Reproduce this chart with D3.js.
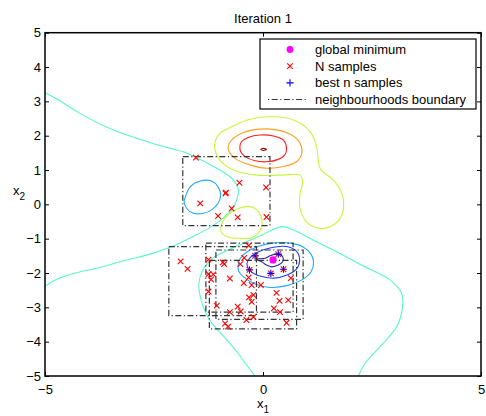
<!DOCTYPE html>
<html>
<head>
<meta charset="utf-8">
<script src="https://d3js.org/d3.v7.min.js"></script>
<style>
  body { margin: 0; background: #fff; }
  svg text { font-family: "Liberation Sans", Arial, sans-serif; font-size: 13px; fill: #000; }
</style>
</head>
<body>
<svg width="486" height="416"></svg>
<script>
// ---- data (in x1 / x2 units) ----
const title = 'Iteration 1';
const xTicks = [-5, 0, 5];
const yTicks = [-5, -4, -3, -2, -1, 0, 1, 2, 3, 4, 5];

const globalMin = [0.23, -1.62];

// N samples (red crosses)
const samples = [
  [-1.54, 1.36], [-0.54, 0.63], [0.07, 0.49], [-0.85, 0.34], [-0.86, 0.32],
  [-1.44, 0.03], [-0.72, -0.12], [-1.03, -0.34], [-0.58, -0.38], [0.08, -0.37],
  [-0.33, -1.20], [-1.89, -1.66], [-1.73, -1.88], [-1.25, -1.61], [-0.92, -1.69],
  [-0.89, -1.74], [-0.52, -1.74], [-0.43, -1.56], [-1.25, -2.03], [-1.14, -2.04],
  [-1.19, -2.19], [-0.76, -2.16], [-0.33, -2.13], [-0.44, -2.29], [-0.26, -2.35],
  [-0.05, -2.35], [-0.22, -2.64], [-0.32, -2.71], [-0.26, -2.84], [-1.25, -2.54],
  [-1.06, -2.95], [-0.76, -3.14], [-0.58, -2.98], [-0.51, -3.12], [-0.87, -3.47],
  [-0.80, -3.56], [-0.38, -3.37], [-0.22, -3.28], [0.64, -2.15], [0.31, -2.58],
  [0.38, -2.81], [0.58, -2.79], [0.25, -3.03], [0.39, -3.14], [0.54, -3.45],
  [-0.18, -1.50], [0.35, -1.45], [-0.31, -1.91], [0.47, -1.89], [0.18, -2.01]
];

// best n samples (blue plus)
const bestSamples = [
  [-0.18, -1.50], [0.35, -1.45], [-0.31, -1.91], [0.47, -1.89], [0.18, -2.01]
];

// neighbourhood boxes: [x1min, x1max, x2min, x2max]
const boxes = [
  [-1.84, 0.16, -0.62, 1.39],
  [-2.16, -0.15, -3.24, -1.23],
  [-1.31, 0.69, -3.14, -1.13],
  [-1.23, 0.77, -3.63, -1.63],
  [-1.08, 0.92, -3.35, -1.33]
];

// contour lines
const cyanLeft = [
  [-5.0, 3.25], [-4.66, 3.02], [-4.20, 2.65], [-3.51, 2.21], [-2.59, 1.80], [-2.13, 1.63],
  [-1.83, 1.53], [-1.52, 1.36], [-1.06, 1.05], [-0.72, 0.76], [-0.57, 0.47], [-0.59, 0.17],
  [-0.72, -0.17], [-1.03, -0.51], [-1.25, -0.70], [-1.64, -0.96], [-2.09, -1.23],
  [-2.59, -1.45], [-3.13, -1.62], [-3.81, -1.86], [-4.27, -1.99], [-4.73, -2.18], [-5.0, -2.39]
];
const cyanLower = [
  [-0.18, -5.0], [-0.41, -4.62], [-0.60, -4.29], [-0.83, -3.95], [-1.12, -3.54], [-1.29, -3.22],
  [-1.42, -2.79], [-1.47, -2.29], [-1.38, -1.91], [-1.15, -1.56], [-0.80, -1.33], [-0.39, -1.10],
  [-0.02, -0.89], [0.43, -0.65], [0.70, -0.75], [1.15, -1.04], [1.61, -1.33], [2.34, -1.82],
  [2.91, -2.20], [3.18, -2.59], [3.20, -2.98], [3.07, -3.56], [2.68, -4.15], [2.34, -4.63], [2.19, -5.0]
];
const lightBlueTop = [
  [-1.79, 0.18], [-1.67, 0.51], [-1.44, 0.68], [-1.18, 0.68], [-1.03, 0.51], [-0.97, 0.27],
  [-1.03, 0.03], [-1.18, -0.16], [-1.37, -0.26], [-1.60, -0.26], [-1.75, -0.12], [-1.81, 0.08]
];
const yellowTop = [
  [-1.10, 1.83], [-0.99, 2.07], [-0.72, 2.26], [-0.30, 2.48], [0.24, 2.55], [0.70, 2.46],
  [1.08, 2.12], [1.23, 1.68], [1.31, 1.05], [1.61, 0.71], [1.81, 0.32], [1.85, -0.05],
  [1.77, -0.41], [1.54, -0.65], [1.31, -0.70], [1.00, -0.51], [0.85, -0.12], [0.85, 0.32],
  [0.91, 0.65], [0.85, 0.85], [0.39, 0.85], [-0.14, 0.85], [-0.68, 1.00], [-0.99, 1.29], [-1.10, 1.58]
];
const yellowSmall = [
  [-0.96, -0.81], [-0.92, -0.49], [-0.78, -0.28], [-0.60, -0.14], [-0.34, -0.06], [-0.16, -0.14],
  [-0.05, -0.34], [-0.02, -0.57], [-0.09, -0.81], [-0.25, -0.97], [-0.53, -0.99], [-0.80, -0.95]
];
const orangeTop = [
  [-0.80, 1.63], [-0.72, 1.87], [-0.45, 2.09], [-0.07, 2.19], [0.31, 2.17], [0.66, 2.02],
  [0.85, 1.78], [0.89, 1.49], [0.77, 1.24], [0.47, 1.10], [0.08, 1.05], [-0.30, 1.15], [-0.64, 1.34]
];
const redTop = [
  [-0.53, 1.68], [-0.49, 1.83], [-0.34, 1.95], [-0.07, 2.02], [0.24, 1.99], [0.47, 1.87],
  [0.54, 1.63], [0.50, 1.44], [0.35, 1.31], [0.08, 1.24], [-0.18, 1.27], [-0.41, 1.39], [-0.51, 1.53]
];
const darkRedTop = [[-0.05, 1.60], [0.01, 1.63], [0.08, 1.60], [0.01, 1.57]];
const lightBlueMin = [
  [-0.57, -1.80], [-0.53, -1.59], [-0.37, -1.39], [-0.11, -1.23], [0.21, -1.13], [0.62, -1.13],
  [0.92, -1.24], [1.10, -1.45], [1.16, -1.68], [1.10, -1.97], [0.89, -2.20], [0.57, -2.36],
  [0.16, -2.42], [-0.16, -2.33], [-0.44, -2.12], [-0.56, -1.94]
];
const blueMin = [
  [-0.37, -1.74], [-0.30, -1.56], [-0.14, -1.40], [0.16, -1.27], [0.54, -1.23], [0.77, -1.37],
  [0.84, -1.62], [0.77, -1.88], [0.55, -2.06], [0.25, -2.15], [-0.07, -2.09], [-0.30, -1.93]
];
const navyMin = [
  [-0.16, -1.60], [0.05, -1.57], [0.16, -1.50], [0.31, -1.45], [0.45, -1.52], [0.45, -1.67],
  [0.35, -1.77], [0.20, -1.82], [0.08, -1.77], [-0.03, -1.67]
];

const contours = [
  {pts: cyanLeft, level: 'cyan', closed: false},
  {pts: cyanLower, level: 'cyan', closed: false},
  {pts: lightBlueTop, level: 'lightblue', closed: true},
  {pts: yellowTop, level: 'yellow', closed: true},
  {pts: yellowSmall, level: 'yellow', closed: true},
  {pts: orangeTop, level: 'orange', closed: true},
  {pts: redTop, level: 'red', closed: true},
  {pts: darkRedTop, level: 'darkred', closed: true},
  {pts: lightBlueMin, level: 'lightblue', closed: true},
  {pts: blueMin, level: 'blue', closed: true},
  {pts: navyMin, level: 'navy', closed: true}
];

const legendLabels = ['global minimum', 'N samples', 'best n samples', 'neighbourhoods boundary'];

// ---- drawing ----
const levelColor = {
  navy: '#24248f', blue: '#2040f0', lightblue: '#22a8ff', cyan: '#55f8c8',
  yellow: '#c8f53a', orange: '#ffa020', red: '#ff2020', darkred: '#a00000'
};

const svg = d3.select('svg');
const pL = 45, pR = 481, pT = 32.7, pB = 376;

const x = d3.scaleLinear().domain([-5, 5]).range([pL, pR]);
const y = d3.scaleLinear().domain([-5, 5]).range([pB, pT]);

svg.append('clipPath').attr('id', 'plotclip')
  .append('rect').attr('x', pL).attr('y', pT)
  .attr('width', pR - pL).attr('height', pB - pT);

const plot = svg.append('g').attr('clip-path', 'url(#plotclip)');

const openLine = d3.line().x(d => x(d[0])).y(d => y(d[1])).curve(d3.curveCatmullRom);
const closedLine = d3.line().x(d => x(d[0])).y(d => y(d[1])).curve(d3.curveCatmullRomClosed);

plot.selectAll('path.contour')
  .data(contours)
  .enter().append('path')
  .attr('class', 'contour')
  .attr('d', d => d.closed ? closedLine(d.pts) : openLine(d.pts))
  .attr('fill', 'none')
  .attr('stroke', d => levelColor[d.level])
  .attr('stroke-width', 1.1);

// neighbourhood boxes
plot.selectAll('rect.box')
  .data(boxes)
  .enter().append('rect')
  .attr('class', 'box')
  .attr('x', d => x(d[0]))
  .attr('y', d => y(d[3]))
  .attr('width', d => x(d[1]) - x(d[0]))
  .attr('height', d => y(d[2]) - y(d[3]))
  .attr('fill', 'none')
  .attr('stroke', '#333')
  .attr('stroke-width', 1.2)
  .attr('stroke-dasharray', '6,2.5,1.2,2.5');

const crossPath = 'M-2.8,-2.8L2.8,2.8M-2.8,2.8L2.8,-2.8';
const plusPath = 'M-3.6,0L3.6,0M0,-3.6L0,3.6';

plot.selectAll('path.sample')
  .data(samples)
  .enter().append('path')
  .attr('class', 'sample')
  .attr('transform', d => `translate(${x(d[0])},${y(d[1])})`)
  .attr('d', crossPath)
  .attr('stroke', '#ff0000')
  .attr('stroke-width', 1.1)
  .attr('fill', 'none');

plot.selectAll('path.best')
  .data(bestSamples)
  .enter().append('path')
  .attr('class', 'best')
  .attr('transform', d => `translate(${x(d[0])},${y(d[1])})`)
  .attr('d', plusPath)
  .attr('stroke', '#0000ff')
  .attr('stroke-width', 1.1)
  .attr('fill', 'none');

plot.append('circle')
  .attr('cx', x(globalMin[0]))
  .attr('cy', y(globalMin[1]))
  .attr('r', 3.6)
  .attr('fill', '#ff00ff');

// axes: ticks inside, labels bottom & left only
const axB = svg.append('g').attr('transform', `translate(0,${pB})`)
  .call(d3.axisBottom(x).tickValues(xTicks).tickSizeInner(-4).tickSizeOuter(0).tickPadding(8));
const axT = svg.append('g').attr('transform', `translate(0,${pT})`)
  .call(d3.axisTop(x).tickValues(xTicks).tickSizeInner(-4).tickSizeOuter(0).tickFormat(''));
const axL = svg.append('g').attr('transform', `translate(${pL},0)`)
  .call(d3.axisLeft(y).tickValues(yTicks).tickSizeInner(-4).tickSizeOuter(0).tickPadding(4));
const axR = svg.append('g').attr('transform', `translate(${pR},0)`)
  .call(d3.axisRight(y).tickValues(yTicks).tickSizeInner(-4).tickSizeOuter(0).tickFormat(''));

[axB, axT, axL, axR].forEach(a => {
  a.select('.domain').remove();
  a.attr('font-family', null).attr('font-size', null);
  a.selectAll('line').attr('stroke', '#000');
});
axB.selectAll('.tick text').attr('dy', '0.78em');

svg.append('rect')
  .attr('x', pL).attr('y', pT)
  .attr('width', pR - pL).attr('height', pB - pT)
  .attr('fill', 'none').attr('stroke', '#000').attr('stroke-width', 1.5);

// title and axis labels
svg.append('text').attr('x', x(0)).attr('y', 22.5)
  .attr('text-anchor', 'middle').text(title);

const xl = svg.append('text').attr('x', x(0)).attr('y', 408).attr('text-anchor', 'middle');
xl.append('tspan').text('x');
xl.append('tspan').attr('dy', 5).attr('font-size', '10px').text('1');

const yl = svg.append('text').attr('x', 13).attr('y', 195);
yl.append('tspan').text('x');
yl.append('tspan').attr('dy', 5).attr('font-size', '10px').text('2');

// legend
const lg = svg.append('g');
lg.append('rect')
  .attr('x', 260).attr('y', 39).attr('width', 216).attr('height', 70)
  .attr('fill', '#fff').attr('stroke', '#000').attr('stroke-width', 1.2);

const rowY = d3.scalePoint().domain(legendLabels).range([49.5, 99.5]);
const markX = 290, textX = 315;

lg.selectAll('text.lab')
  .data(legendLabels)
  .enter().append('text')
  .attr('class', 'lab')
  .attr('x', textX)
  .attr('y', d => rowY(d))
  .attr('dy', '0.35em')
  .text(d => d);

lg.append('circle').attr('cx', markX).attr('cy', rowY(legendLabels[0])).attr('r', 3.4).attr('fill', '#ff00ff');
lg.append('path').attr('transform', `translate(${markX},${rowY(legendLabels[1])})`)
  .attr('d', crossPath).attr('stroke', '#ff0000').attr('stroke-width', 1.1);
lg.append('path').attr('transform', `translate(${markX},${rowY(legendLabels[2])})`)
  .attr('d', plusPath).attr('stroke', '#0000ff').attr('stroke-width', 1.1);
lg.append('line')
  .attr('x1', 268).attr('x2', 308)
  .attr('y1', rowY(legendLabels[3])).attr('y2', rowY(legendLabels[3]))
  .attr('stroke', '#333').attr('stroke-width', 1.2)
  .attr('stroke-dasharray', '1.2,2.5,6,2.5');
</script>
</body>
</html>
